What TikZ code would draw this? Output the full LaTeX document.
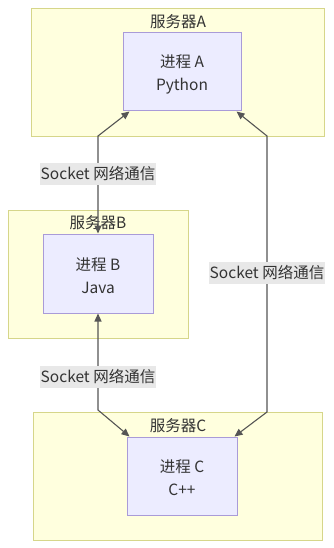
\documentclass[tikz,border=0pt]{standalone}
\usepackage{fontspec}
\setmainfont{Noto Sans CJK SC}
\usetikzlibrary{arrows.meta,calc}
\definecolor{srvfill}{HTML}{FFFFDE}
\definecolor{srvline}{HTML}{D6D68A}
\definecolor{procfill}{HTML}{ECECFF}
\definecolor{procline}{HTML}{A99BD8}
\definecolor{txt}{HTML}{333333}
\definecolor{edgecol}{HTML}{555555}
\definecolor{lblbg}{HTML}{E8E8E8}
\begin{document}
\begin{tikzpicture}[x=1pt,y=-1pt,
  server/.style={draw=srvline,fill=srvfill,line width=1pt,rectangle,anchor=north west,inner sep=0pt},
  proc/.style={draw=procline,fill=procfill,line width=1pt,rectangle,inner sep=0pt,align=center,text=txt,
    font=\fontsize{15.5}{23}\selectfont},
  title/.style={text=txt,font=\fontsize{15.5}{18}\selectfont,inner sep=0pt},
  lbl/.style={fill=lblbg,text=txt,font=\fontsize{15.5}{18}\selectfont,inner xsep=1pt,inner ysep=4pt},
  link/.style={draw=edgecol,line width=1.1pt,{Triangle[length=8pt,width=7pt]}-{Triangle[length=8pt,width=7pt]}}
]
\useasboundingbox (0,0) rectangle (334,548);
\fill[white] (0,0) rectangle (334,548);
% servers
\node[server,minimum width=293pt,minimum height=128pt] (sA) at (31,8) {};
\node[server,minimum width=180pt,minimum height=128pt] (sB) at (8,210) {};
\node[server,minimum width=289pt,minimum height=128pt] (sC) at (33,412) {};
\node[title] (tA) at (178,22) {服务器A};
\node[title] (tB) at (98,223) {服务器B};
\node[title] (tC) at (178,426) {服务器C};
% processes
\node[proc,minimum width=118pt,minimum height=78pt] (pA) at (182,72) {};
\node[proc,minimum width=110pt,minimum height=79pt] (pB) at (98,273.5) {};
\node[proc,minimum width=110pt,minimum height=78pt] (pC) at (182,476) {};
\node[proc,draw=none,fill=none] (pAt) at (182,74) {进程 A\\Python};
\node[proc,draw=none,fill=none] (pBt) at (98,275.5) {进程 B\\Java};
\node[proc,draw=none,fill=none] (pCt) at (182,478) {进程 C\\C++};
% bend points
\coordinate (ab1) at (98,136);
\coordinate (ac1) at (267,136);
\coordinate (ac2) at (267,412);
\coordinate (bc1) at (98,410);
% connectors
\draw[link] ($(pA.south west)+(7,0)$) -- (ab1) -- (pB.north);
\draw[link] ($(pA.south east)+(-5,0)$) -- (ac1) -- (ac2) -- ($(pC.north east)+(-3,0)$);
\draw[link] (pB.south) -- (bc1) -- ($(pC.north west)+(3,0)$);
% labels
\node[lbl] (lAB) at (98,174) {Socket 网络通信};
\node[lbl] (lAC) at (267,273) {Socket 网络通信};
\node[lbl] (lBC) at (98,377) {Socket 网络通信};
\end{tikzpicture}
\end{document}
